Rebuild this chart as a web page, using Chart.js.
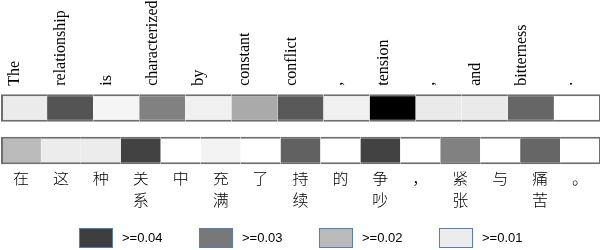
<!DOCTYPE html>
<html><head><meta charset="utf-8">
<script src="https://cdn.jsdelivr.net/npm/chart.js@4.4.1/dist/chart.umd.min.js"></script>
<style>html,body{margin:0;padding:0;background:#fff;} #wrap{width:602px;height:250px;position:relative;}</style>
</head><body><div id="wrap"><canvas id="c" width="602" height="250"></canvas></div>
<script>
// ---- data ----
const enTokens = ['The','relationship','is','characterized','by','constant','conflict',',','tension',',','and','bitterness','.'];
const enWeights = [0.0102,0.0362,0.0053,0.0287,0.0079,0.0225,0.0353,0.0079,0.05,0.0104,0.0104,0.0331,0.0];
const zhTokens = ['在','这','种','关系','中','充满','了','持续','的','争吵','，','紧张','与','痛苦','。'];
const zhWeights = [0.02,0.01,0.01,0.0393,0,0.0063,0,0.034,0,0.0393,0,0.0287,0,0.0331,0];
const legendLevels = [0.04,0.03,0.02,0.01];
const rowLabels = ['en','zh'];

// ---- weight -> gray shade ----
const grayStops = [[0,255],[0.01,236],[0.02,186],[0.03,120],[0.04,62],[0.05,0]];
function shade(w){
  let g = grayStops[grayStops.length-1][1];
  for (let k=1;k<grayStops.length;k++){
    const [w0,g0]=grayStops[k-1],[w1,g1]=grayStops[k];
    if (w<=w1){ g = g0 + (g1-g0)*Math.max(0,(w-w0))/(w1-w0); break; }
  }
  g=Math.round(g);
  return 'rgb('+g+','+g+','+g+')';
}

const legendPlugin = {
  id:'levelLegend',
  afterDraw(chart){
    const c = chart.ctx;
    const boxW=34, boxH=20, gap=9, step=120;
    c.save();
    c.font = '13px "Liberation Sans", Arial, sans-serif';
    const items = legendLevels.map(l=>({level:l, text:'>='+l.toFixed(2)}));
    const itemW = boxW + gap + c.measureText(items[0].text).width;
    const totalW = step*(items.length-1) + itemW;
    let x = Math.round((chart.width - totalW)/2);
    const y = chart.height - 22;
    items.forEach(it=>{
      c.fillStyle = shade(it.level);
      c.fillRect(x, y, boxW, boxH);
      c.strokeStyle = '#5b7bb3';
      c.lineWidth = 1;
      c.strokeRect(x+0.5, y+0.5, boxW-1, boxH-1);
      c.fillStyle = '#000';
      c.textBaseline = 'middle';
      c.textAlign = 'left';
      c.fillText(it.text, x+boxW+gap, y+boxH/2);
      x += step;
    });
    c.restore();
  }
};

const lastEn = enTokens.length-1, lastZh = zhTokens.length-1;
function cellBorder(last){
  return ctx => ({top:2, bottom:2, left: ctx.dataIndex===0?2:0, right: ctx.dataIndex===last?1:0});
}

new Chart(document.getElementById('c'), {
  type:'bar',
  data:{
    labels: rowLabels,
    datasets:[
      {label:'en', xAxisID:'xEn', yAxisID:'y',
       data: enTokens.map((t,i)=>({x:[i,i+1], y:rowLabels[0]})),
       backgroundColor: enWeights.map(shade), borderWidth: cellBorder(lastEn)},
      {label:'zh', xAxisID:'xZh', yAxisID:'y',
       data: zhTokens.map((t,i)=>({x:[i,i+1], y:rowLabels[1]})),
       backgroundColor: zhWeights.map(shade), borderWidth: cellBorder(lastZh)}
    ]
  },
  options:{
    indexAxis:'y', responsive:false, animation:false, devicePixelRatio:1,
    layout:{padding:{left:1,right:2,top:0,bottom:30}},
    plugins:{legend:{display:false}, tooltip:{enabled:false}},
    datasets:{bar:{grouped:false, categoryPercentage:1, barPercentage:0.647, borderSkipped:false, borderColor:'#6e6e6e', inflateAmount:0}},
    scales:{
      y:{type:'category', display:false, offset:true},
      xEn:{type:'linear', position:'top', min:0, max:enTokens.length,
        grid:{display:false, drawTicks:false}, border:{display:false},
        afterBuildTicks: s=>{ s.ticks = enTokens.map((_,i)=>({value:i+0.5})); },
        afterFit: s=>{ s.height = 86.75; },
        ticks:{autoSkip:false, minRotation:90, maxRotation:90, padding:1, labelOffset:10,
          font:{family:'"Liberation Serif", "Times New Roman", serif', size:16}, color:'#000',
          callback:(v,i)=>enTokens[i]}
      },
      xZh:{type:'linear', position:'bottom', min:0, max:zhTokens.length,
        grid:{display:false, drawTicks:false}, border:{display:false},
        afterBuildTicks: s=>{ s.ticks = zhTokens.map((_,i)=>({value:i+0.5})); },
        afterFit: s=>{ s.height = 48.25; },
        ticks:{autoSkip:false, maxRotation:0, minRotation:0, padding:-5,
          font:{family:'"Noto Sans CJK SC", sans-serif', size:16, weight:300, lineHeight:1.375}, color:'#000',
          callback:(v,i)=>Array.from(zhTokens[i])}
      }
    }
  },
  plugins:[legendPlugin]
});
</script>
</body></html>
